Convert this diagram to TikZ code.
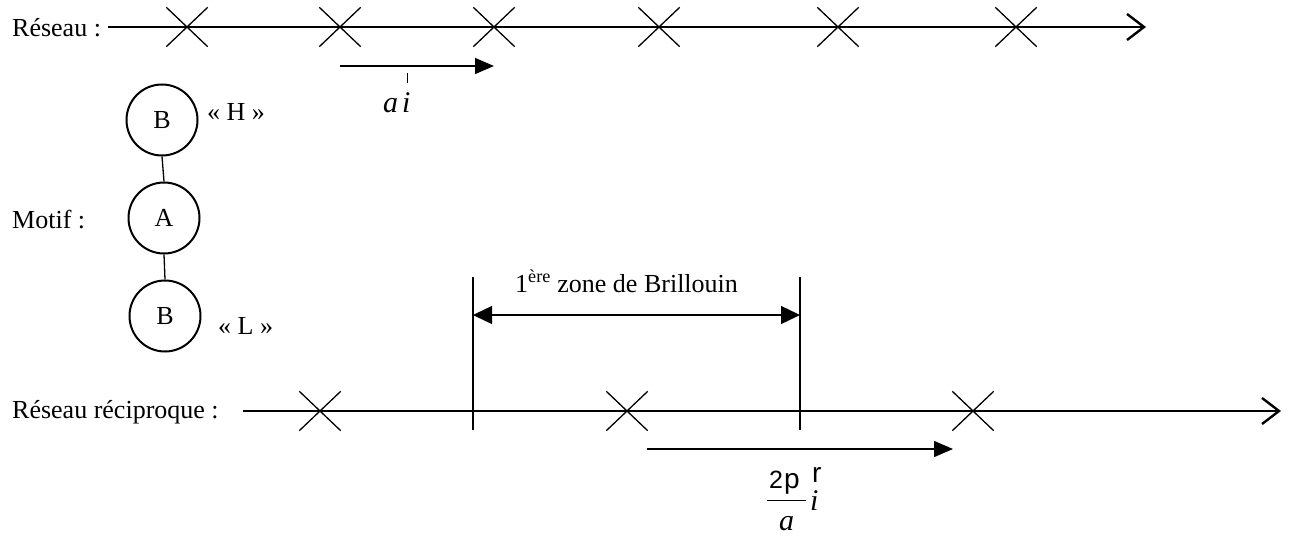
\documentclass[tikz,border=0pt]{standalone}
\usepackage{fontspec}
\setmainfont{Liberation Serif}
\newfontfamily\symsans{Liberation Sans}
\usetikzlibrary{arrows.meta,shapes.misc}
\begin{document}
\begin{tikzpicture}[x=1pt,y=-1pt,
  font=\fontsize{26}{31}\selectfont,
  axis/.style={line width=1.4pt,-{Straight Barb[length=17pt,width=26pt,line width=2.4pt]}},
  latt/.style={cross out,draw,line width=1.3pt,minimum width=40pt,minimum height=38pt,inner sep=0pt},
  atom/.style={circle,draw,line width=2pt,minimum size=71pt,inner sep=0pt},
  bond/.style={line width=1.3pt},
  vec/.style={line width=1.4pt,-{Triangle[length=19pt,width=16pt]}},
  zone/.style={line width=1.4pt,{Triangle[length=19pt,width=18pt]}-{Triangle[length=19pt,width=18pt]}},
  wall/.style={line width=1.4pt},
  lbl/.style={inner sep=0pt,anchor=base west},
  vlbl/.style={lbl,font=\fontsize{30}{34}\selectfont\itshape}]
\useasboundingbox (0,0) rectangle (1289,535);

% direct lattice
\node[lbl] (tReseau) at (12,37) {Réseau :};
\coordinate (topStart) at (108,27);
\coordinate (topEnd) at (1146,27);
\draw[axis] (topStart) -- (topEnd);
\foreach \x [count=\k] in {187,340,494,659,838,1016}
  \node[latt] (d\k) at (\x,27) {};

% primitive vector a i
\coordinate (aStart) at (340,66);
\coordinate (aEnd) at (494,66);
\draw[vec] (aStart) -- (aEnd);
\node[vlbl] (tA) at (383,112) {a};
\node[vlbl] (tI) at (402,112) {i};
\node[inner sep=0pt] (tIbar) at (407.5,78) {\rule{1.2pt}{10pt}};

% basis (motif)
\node[atom] (bH) at (162,120) {B};
\node[atom] (aM) at (164,218) {A};
\node[atom] (bL) at (165,316) {B};
\draw[bond] (bH.south) -- (aM.north);
\draw[bond] (aM.south) -- (bL.north);
\node[lbl] (tH) at (207,120) {« H »};
\node[lbl] (tL) at (218,334) {« L »};
\node[lbl] (tMotif) at (12,228) {Motif :};

% reciprocal lattice
\node[lbl] (tRecip) at (12,418) {Réseau réciproque :};
\coordinate (botStart) at (243,411);
\coordinate (botEnd) at (1281,411);
\draw[axis] (botStart) -- (botEnd);
\foreach \x [count=\k] in {320,627,973}
  \node[latt] (r\k) at (\x,411) {};

% first Brillouin zone
\coordinate (zlTop) at (473,277);
\coordinate (zlBot) at (473,430);
\coordinate (zrTop) at (800,277);
\coordinate (zrBot) at (800,430);
\draw[wall] (zlTop) -- (zlBot);
\draw[wall] (zrTop) -- (zrBot);
\coordinate (zl) at (473,315);
\coordinate (zr) at (800,315);
\draw[zone] (zl) -- (zr);
\node[lbl] (tZone) at (515,292) {1\textsuperscript{ère} zone de Brillouin};

% reciprocal vector 2p/a i
\coordinate (bStart) at (647,449);
\coordinate (bEnd) at (953,449);
\draw[vec] (bStart) -- (bEnd);
\node[lbl] (tNum) at (769,488) {\symsans{\fontsize{25}{28}\selectfont 2}\kern1pt{\fontsize{28}{31}\selectfont p}};
\coordinate (fracL) at (767,500);
\coordinate (fracR) at (806,500);
\draw[line width=1pt] (fracL) -- (fracR);
\node[vlbl] (tDen) at (779,530) {a};
\node[vlbl] (tI2) at (810,510) {i};
\node[lbl] (tR) at (812,482) {\symsans\fontsize{28}{30}\selectfont r};
\end{tikzpicture}
\end{document}
